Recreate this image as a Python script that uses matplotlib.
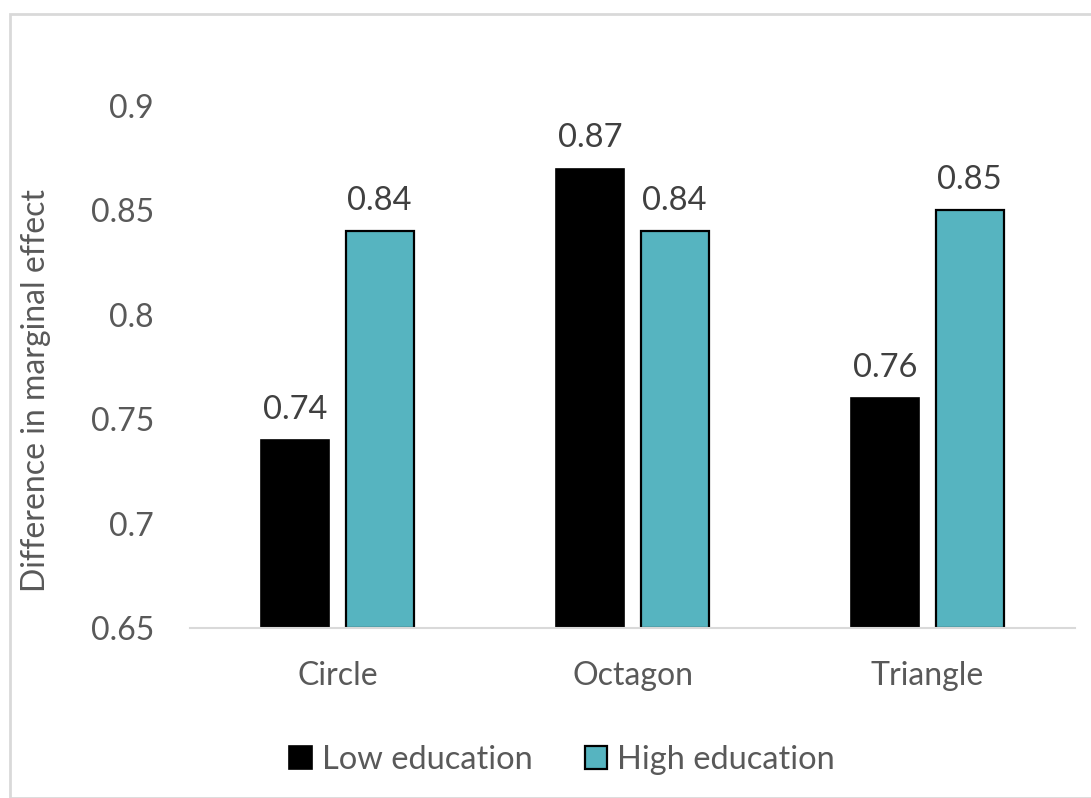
import matplotlib
matplotlib.use("Agg")
import matplotlib.pyplot as plt
import numpy as np
from matplotlib.patches import Rectangle

categories = ["Circle", "Octagon", "Triangle"]
low_education = [0.74, 0.87, 0.76]
high_education = [0.84, 0.84, 0.85]
yticks = [0.65, 0.7, 0.75, 0.8, 0.85, 0.9]
ytick_labels = ["0.65", "0.7", "0.75", "0.8", "0.85", "0.9"]

plt.rcParams["font.family"] = ["Lato", "DejaVu Sans"]
text_color = "#595959"

fig = plt.figure(figsize=(10.91, 7.98), dpi=100)
fig.patch.set_facecolor("white")

# outer chart frame
fig.patches.append(Rectangle((10 / 1091, 0), 1.0, 1 - 14 / 798, transform=fig.transFigure,
                             fill=False, edgecolor="#d9d9d9", linewidth=2))

ax = fig.add_axes([190 / 1091, 1 - 628 / 798, (1075 - 190) / 1091, (628 - 106) / 798])

x = np.arange(len(categories))
w = 0.23
off = 0.143
b1 = ax.bar(x - off, np.array(low_education) - 0.65, w, bottom=0.65, color="black",
            edgecolor="black", linewidth=1.2, label="Low education")
b2 = ax.bar(x + off, np.array(high_education) - 0.65, w, bottom=0.65, color="#56b4c0",
            edgecolor="black", linewidth=1.6, label="High education")

for xs, vals in ((x - off, low_education), (x + off, high_education)):
    for xi, v in zip(xs, vals):
        ax.annotate(f"{v:.2f}", (xi, v), xytext=(0, 11), textcoords="offset points",
                    ha="center", va="bottom", fontsize=23.5, color="#404040")

ax.set_xlim(-0.5, 2.5)
ax.set_ylim(0.65, 0.9)
ax.set_yticks(yticks)
ax.set_yticklabels(ytick_labels)
ax.set_xticks(x)
ax.set_xticklabels(categories)
ax.tick_params(axis="both", length=0, labelsize=23, labelcolor=text_color)
ax.tick_params(axis="y", pad=26)
ax.tick_params(axis="x", pad=24)
for s in ("top", "right", "left"):
    ax.spines[s].set_visible(False)
ax.spines["bottom"].set_color("#d9d9d9")
ax.spines["bottom"].set_linewidth(1.5)

fig.text(36 / 1091, 1 - 390 / 798, "Difference in marginal effect", rotation=90,
         ha="center", va="center", fontsize=23, color=text_color)

fig.legend(handles=[b1, b2], labels=["Low education", "High education"],
           loc="center", bbox_to_anchor=(562 / 1091, 1 - 760 / 798), ncol=2,
           frameon=False, fontsize=23.5, labelcolor=text_color, handlelength=0.7,
           handleheight=0.7, handletextpad=0.3, columnspacing=1.6)

fig.savefig("out.png", dpi=100)
